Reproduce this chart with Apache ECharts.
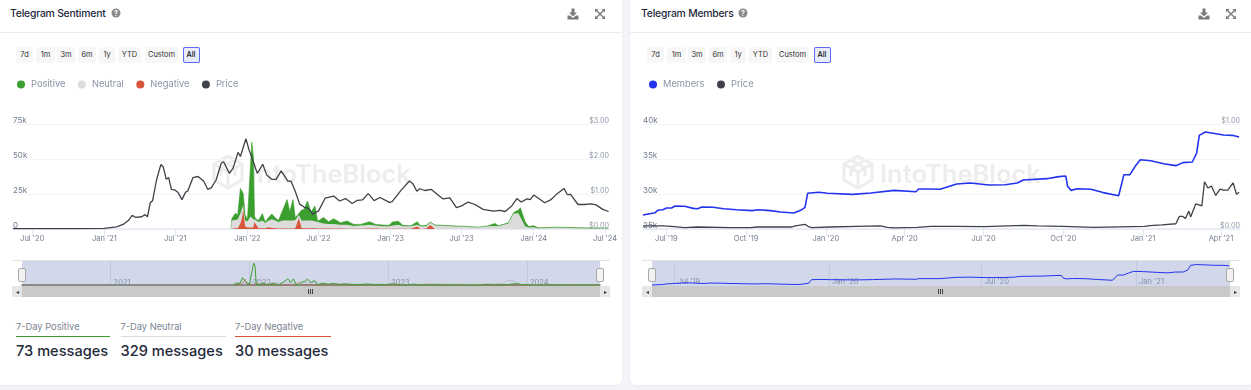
<!DOCTYPE html>
<html><head><meta charset="utf-8">
<script src="https://cdn.jsdelivr.net/npm/echarts@6/dist/echarts.min.js"></script>
<style>
html,body{margin:0;padding:0;width:1251px;height:390px;overflow:hidden;background:#f4f5fb;font-family:Inter,sans-serif;color:#1f2a3a}
.card{position:absolute;top:-6px;height:391px;background:#fff;border-radius:6px;box-shadow:0 1px 3px rgba(60,70,110,.06)}
.title{position:absolute;top:6px;font-size:10.4px;font-weight:500;letter-spacing:-.22px;line-height:15px;white-space:nowrap}
.hr{position:absolute;top:32px;height:1px;background:#ececee}
.btn{position:absolute;top:47px;height:16px;line-height:16px;background:#f7f7f7;border-radius:2px;font-size:7.4px;color:#333;text-align:center}
.btn.on{background:#e8ebfa;box-shadow:inset 0 0 0 1px #5b6cf0;color:#111;font-weight:500}
.lab{position:absolute;top:320px;font-size:9.3px;color:#7b838f;line-height:13px;white-space:nowrap}
.rule{position:absolute;top:336px;height:1px}
.num{position:absolute;top:342px;font-size:14.6px;font-weight:500;line-height:18px;white-space:nowrap;color:#1f2a3a}
.handle{position:absolute;top:268px;width:6px;height:12px;background:#f2f2f2;border:1px solid #a8a8a8;border-radius:2px;z-index:5}
.sb{position:absolute;top:286px;height:11px;background:#c9c9c9;z-index:5}
.sbb{position:absolute;top:286px;width:10px;height:11px;background:#e6e6e6;z-index:6;font-size:6px;line-height:11px;text-align:center;color:#333}
.navtop{position:absolute;top:260px;height:1px;background:#e2e2e2}
svg.ic{position:absolute;z-index:7}
#c{position:absolute;left:0;top:0;width:1251px;height:390px;z-index:1}
</style></head>
<body>
<div id="chrome"></div>
<div id="c"></div>
<script>
// ---------- Telegram Sentiment data ----------
const sentimentDates = ['2021-11-20','2021-11-22','2021-12-01','2021-12-07','2021-12-14','2021-12-18','2021-12-21','2021-12-26','2022-01-01','2022-01-06','2022-01-09','2022-01-12','2022-01-16','2022-01-19','2022-01-22','2022-01-29','2022-02-08','2022-02-15','2022-02-24','2022-03-04','2022-03-13','2022-03-21','2022-04-01','2022-04-12','2022-04-19','2022-04-27','2022-05-03','2022-05-12','2022-05-19','2022-05-25','2022-06-03','2022-06-12','2022-06-22','2022-06-29','2022-07-01','2022-07-14','2022-07-27','2022-08-09','2022-08-26','2022-09-12','2022-09-29','2022-10-16','2022-11-09','2022-11-24','2022-12-11','2022-12-28','2023-01-06','2023-01-21','2023-02-01','2023-02-22','2023-03-10','2023-03-18','2023-04-02','2023-04-12','2023-04-24','2023-06-07','2023-07-18','2023-08-12','2023-09-07','2023-09-24','2023-10-03','2023-10-28','2023-11-11','2023-11-23','2023-11-28','2023-12-10','2023-12-19','2024-01-01','2024-01-12','2024-03-07','2024-04-25','2024-07-10'];
const negativeValues = [0,700,500,500,4000,7600,14000,1700,1000,500,1000,1000,1000,4800,4000,500,500,500,1200,800,500,300,400,400,400,400,500,7600,500,500,500,500,500,300,300,300,300,400,400,200,100,200,400,400,100,100,100,100,100,100,1700,0,300,2900,0,0,0,0,0,0,0,0,0,0,0,0,0,0,0,0,0,0];
const neutralValues = [0,5300,5900,6400,7200,4800,3000,4300,4500,4500,8000,8000,6000,3200,2400,4500,5500,3700,4800,6200,5500,4700,5600,5600,5600,5600,5900,2400,5500,5500,5500,5500,5000,4700,3700,3700,3200,3100,2600,2800,2100,2300,2600,2100,1900,1900,2400,2900,1900,1900,1300,2000,1700,1800,2500,2000,1500,1100,2000,2200,2000,4000,11000,11200,10000,2000,1000,1200,600,900,500,300];
const positiveValues = [0,1400,4800,3100,17800,17100,8500,4000,1500,1400,38000,53000,45000,1000,1000,1000,5000,800,2300,3700,2000,1000,7500,15000,6400,15000,1600,1000,7500,8000,14000,6000,10900,500,1200,4300,1700,3900,1500,2700,1100,800,2200,800,900,600,2500,2500,600,300,2200,300,600,300,400,300,300,200,300,1800,300,400,700,2400,5200,3200,700,1200,300,400,400,200];
const priceDatesA = ['2020-05-13','2020-08-01','2020-11-01','2021-01-01','2021-02-01','2021-02-18','2021-03-03','2021-03-13','2021-03-22','2021-04-06','2021-04-15','2021-04-21','2021-04-28','2021-05-04','2021-05-14','2021-05-25','2021-05-31','2021-06-08','2021-06-14','2021-06-21','2021-07-01','2021-07-08','2021-07-18','2021-07-27','2021-08-02','2021-08-15','2021-08-28','2021-09-11','2021-09-22','2021-10-01','2021-10-13','2021-10-26','2021-11-01','2021-11-16','2021-11-25','2021-12-08','2021-12-14','2021-12-28','2022-01-05','2022-01-10','2022-01-16','2022-01-26','2022-01-31','2022-02-09','2022-02-19','2022-03-04','2022-03-15','2022-03-28','2022-04-14','2022-04-22','2022-05-03','2022-05-14','2022-05-26','2022-06-06','2022-06-17','2022-06-24','2022-07-01','2022-07-18','2022-08-09','2022-08-24','2022-09-08','2022-09-25','2022-10-08','2022-10-21','2022-11-05','2022-11-20','2022-12-05','2022-12-29','2023-01-05','2023-01-28','2023-02-18','2023-02-27','2023-03-09','2023-03-16','2023-03-29','2023-04-15','2023-05-02','2023-05-15','2023-06-01','2023-06-18','2023-07-01','2023-07-18','2023-08-04','2023-08-25','2023-09-20','2023-10-08','2023-10-20','2023-11-06','2023-11-19','2023-11-30','2023-12-15','2023-12-23','2024-01-01','2024-01-14','2024-01-29','2024-02-13','2024-03-01','2024-03-18','2024-03-27','2024-04-04','2024-04-23','2024-05-09','2024-05-26','2024-06-08','2024-06-25','2024-07-10'];
const priceValuesA = [0.01,0.01,0.01,0.02,0.06,0.13,0.24,0.39,0.33,0.35,0.41,0.35,0.75,0.81,1.40,1.84,1.78,1.42,1.47,1.13,1.11,1.04,0.84,1.05,1.09,1.47,1.50,1.37,1.13,1.18,1.40,1.88,1.92,1.59,1.73,2.19,2.07,2.58,2.26,2.21,1.92,1.59,1.61,1.85,1.54,1.42,1.42,1.66,1.37,1.37,1.07,0.71,0.62,0.59,0.42,0.48,0.51,0.88,0.94,0.80,0.87,0.73,0.82,0.83,1.01,0.81,0.90,0.76,0.78,1.11,1.37,1.29,1.08,1.15,1.10,1.13,0.97,0.86,0.89,0.61,0.66,0.77,0.70,0.56,0.51,0.53,0.50,0.66,0.87,0.77,0.86,0.84,0.97,0.87,0.75,0.83,1.01,1.16,0.98,0.99,0.70,0.70,0.72,0.69,0.56,0.50];
const ticksDatesA = ['2020-07-01','2021-01-01','2021-07-01','2022-01-01','2022-07-01','2023-01-01','2023-07-01','2024-01-01','2024-07-01'];
const ticksLabelsA = ["Jul '20","Jan '21","Jul '21","Jan '22","Jul '22","Jan '23","Jul '23","Jan '24","Jul '24"];
const navDatesA = ['2021-01-01','2022-01-01','2023-01-01','2024-01-01'];
const navLabelsA = ['2021','2022','2023','2024'];

// ---------- Telegram Members data ----------
const membersDates = ['2019-06-04','2019-06-18','2019-06-21','2019-06-27','2019-07-01','2019-07-07','2019-07-11','2019-07-22','2019-08-01','2019-08-06','2019-08-11','2019-08-24','2019-09-05','2019-09-20','2019-10-08','2019-10-15','2019-10-29','2019-11-10','2019-11-25','2019-12-03','2019-12-08','2019-12-11','2019-12-24','2020-01-03','2020-02-01','2020-02-22','2020-03-20','2020-04-14','2020-04-15','2020-04-17','2020-05-01','2020-05-12','2020-05-20','2020-05-31','2020-06-16','2020-07-07','2020-07-26','2020-08-09','2020-08-16','2020-09-12','2020-09-26','2020-10-04','2020-10-06','2020-10-10','2020-10-17','2020-11-02','2020-11-16','2020-12-04','2020-12-10','2020-12-17','2020-12-23','2020-12-29','2021-01-10','2021-01-25','2021-02-08','2021-02-16','2021-02-27','2021-03-04','2021-03-07','2021-03-14','2021-04-04','2021-04-14','2021-04-22'];
const membersValues = [27000,27330,27670,27760,28000,28000,28290,28240,27950,27900,28140,28100,27900,27760,27620,27760,27620,27430,27290,27670,28100,30100,30240,30100,29950,30140,30520,30330,30290,30710,30710,30670,31000,31430,31570,31290,31330,31570,32000,32190,32480,32570,31100,30520,30760,30670,30200,29760,32760,32760,33950,34900,34760,34330,34050,34480,34570,35860,38380,38860,38430,38380,38140];
const priceDatesB = ['2019-06-04','2019-06-27','2019-07-07','2019-07-22','2019-08-06','2019-09-12','2019-10-06','2019-10-14','2019-11-22','2019-11-27','2019-12-08','2019-12-12','2019-12-16','2020-01-06','2020-02-06','2020-03-04','2020-03-12','2020-03-20','2020-04-16','2020-05-01','2020-05-28','2020-07-02','2020-08-17','2020-09-01','2020-10-01','2020-11-05','2021-01-03','2021-01-09','2021-01-23','2021-02-08','2021-02-12','2021-02-16','2021-02-19','2021-02-23','2021-02-25','2021-03-03','2021-03-10','2021-03-13','2021-03-17','2021-03-21','2021-03-26','2021-03-31','2021-04-04','2021-04-09','2021-04-15','2021-04-19','2021-04-22'];
const priceValuesB = [0.03,0.03,0.025,0.013,0.019,0.013,0.013,0.019,0.019,0.03,0.045,0.022,0.013,0.019,0.025,0.029,0.016,0.01,0.016,0.025,0.025,0.022,0.035,0.029,0.025,0.016,0.025,0.032,0.04,0.05,0.12,0.12,0.10,0.17,0.115,0.24,0.22,0.45,0.39,0.41,0.32,0.38,0.37,0.37,0.44,0.33,0.35];
const ticksDatesB = ['2019-07-01','2019-10-01','2020-01-01','2020-04-01','2020-07-01','2020-10-01','2021-01-01','2021-04-01'];
const ticksLabelsB = ["Jul '19","Oct '19","Jan '20","Apr '20","Jul '20","Oct '20","Jan '21","Apr '21"];
const navDatesB = ['2019-07-01','2020-01-01','2020-07-01','2021-01-01'];
const navLabelsB = ["Jul '19","Jan '20","Jul '20","Jan '21"];

const buttonLabels = ['7d','1m','3m','6m','1y','YTD','Custom','All'];
const statLabels = ['7-Day Positive','7-Day Neutral','7-Day Negative'];
const statValues = ['73 messages','329 messages','30 messages'];

// ---------- page chrome ----------
const T = s => +new Date(s);
const GREEN='#3a9f2e', GRAY='#dcdcdc', RED='#d9553a', DARK='#3f4248', BLUE='#2233ee';
const chrome = document.getElementById('chrome');
function add(cls, style, text){const d=document.createElement('div');d.className=cls;d.style.cssText=style;if(text!=null)d.textContent=text;chrome.appendChild(d);return d;}
function svg(x,y,w,h,inner){const wrap=document.createElement('div');wrap.innerHTML='<svg class="ic" style="left:'+x+'px;top:'+y+'px" width="'+w+'" height="'+h+'" viewBox="0 0 '+w+' '+h+'">'+inner+'</svg>';chrome.appendChild(wrap.firstChild);}
const btnX=[[16,17],[36,19],[57,18],[78,18],[99,16],[118,23],[145,33],[182.5,17]];
function panel(off,cardL,cardW,title,titleX,infoX,dlX,fsX,navL,navR){
  add('card','left:'+cardL+'px;width:'+cardW+'px');
  add('title','left:'+titleX+'px',title);
  add('hr','left:'+cardL+'px;width:'+cardW+'px');
  svg(infoX-5,8,10,10,'<circle cx="5" cy="5" r="4.5" fill="#8a8a8a"/><text x="5" y="7.6" font-size="7" font-weight="700" font-family="Inter" text-anchor="middle" fill="#fff">?</text>');
  svg(dlX-6,8,12,12,'<path d="M4.5 0.5h3v4h2.5L6 8.5 2 4.5h2.5z" fill="#7a7a7a"/><path d="M0.5 7.5h2.5l3 2.5 3-2.5h2.5v4h-11z" fill="#7a7a7a"/>');
  svg(fsX-5,9,10,10,'<path d="M1 1l8 8M9 1L1 9" stroke="#7a7a7a" stroke-width="1.3"/><path d="M0 0h3.6L0 3.6zM10 0v3.6L6.4 0zM0 10v-3.6L3.6 10zM10 10H6.4L10 6.4z" fill="#7a7a7a"/>');
  buttonLabels.forEach((b,i)=>add('btn'+(i===7?' on':''),'left:'+(btnX[i][0]+off)+'px;width:'+btnX[i][1]+'px',b));
  add('navtop','left:'+navL+'px;width:'+(navR-navL)+'px');
  add('sb','left:'+navL+'px;width:'+(navR-navL)+'px');
  add('sbb','left:'+navL+'px','◂');
  add('sbb','left:'+(navR-10)+'px','▸');
  svg((navL+navR)/2-3,289,6,5,'<path d="M0.5 0v5M2.5 0v5M4.5 0v5" stroke="#444" stroke-width="1"/>');
  add('handle','left:'+(navL+6)+'px');
  add('handle','left:'+(navR-14)+'px');
}
panel(0,-4,626,'Telegram Sentiment',10,116,573,600,12,610);
panel(631,630,625,'Telegram Members',641,743,1204,1231,642,1240);
const statX=[[16,94],[120.5,105],[235,96]], statC=[GREEN,GRAY,RED];
statLabels.forEach((s,i)=>{
  add('lab','left:'+statX[i][0]+'px',s);
  add('rule','left:'+statX[i][0]+'px;width:'+statX[i][1]+'px;background:'+statC[i]);
  add('num','left:'+statX[i][0]+'px',statValues[i]);
});

// ---------- chart ----------
const zip=(d,v)=>d.map((s,i)=>[T(s),v[i]]);
// the value x axis cannot stack on y, so the three bands are accumulated here and painted back to front
const upToNeutral=negativeValues.map((v,i)=>v+neutralValues[i]);
const upToPositive=upToNeutral.map((v,i)=>v+positiveValues[i]);
const area=(name,vals,color,lw,z)=>({name,type:'line',xAxisIndex:0,yAxisIndex:0,data:zip(sentimentDates,vals),showSymbol:false,itemStyle:{color},lineStyle:{width:lw,color},areaStyle:{color,opacity:1},z});
const lbl=(ds,ls)=>{const m={};ds.forEach((d,i)=>m[T(d)]=ls[i]);return m;};
const mA=lbl(ticksDatesA,ticksLabelsA), mB=lbl(ticksDatesB,ticksLabelsB), nA=lbl(navDatesA,navLabelsA), nB=lbl(navDatesB,navLabelsB);
const xMain=(gi,min,max,ds,m)=>({type:'value',scale:true,gridIndex:gi,min:T(min),max:T(max),
  axisLine:{onZero:false,lineStyle:{color:'#e3e7f3',width:1.5}},
  axisTick:{show:true,length:7,lineStyle:{color:'#e3e7f3'},customValues:ds.map(T)},
  axisLabel:{customValues:ds.map(T),formatter:v=>m[v]||'',color:'#737d8e',fontSize:7.5,fontFamily:'Inter',margin:6,hideOverlap:false,showMinLabel:true,showMaxLabel:true},
  splitLine:{show:false}});
const xNav=(gi,min,max,ds,m,axisShow)=>({type:'value',scale:true,gridIndex:gi,min:T(min),max:T(max),
  axisLine:{show:axisShow,onZero:true,lineStyle:{color:'#6b7362',width:1.5}},
  axisTick:{show:false,customValues:ds.map(T)},
  axisLabel:{inside:true,customValues:ds.map(T),formatter:v=>m[v]||'',color:'#8790a6',fontSize:7.5,fontFamily:'Inter',margin:axisShow?-1:0,align:'left',padding:[0,0,0,3],hideOverlap:false},
  splitLine:{show:true,lineStyle:{color:'#c3cadf',width:1}}});
const yL=(gi,min,max,iv,f)=>({type:'value',gridIndex:gi,position:'left',min,max,interval:iv,
  axisLine:{show:false},axisTick:{show:false},splitLine:{show:true,lineStyle:{color:'#f3f4f8'}},
  axisLabel:{inside:true,margin:0,align:'left',verticalAlign:'bottom',lineHeight:7,color:'#6f7a8c',fontSize:8,fontFamily:'Inter',formatter:f}});
const yR=(gi,max,iv)=>({type:'value',gridIndex:gi,position:'right',min:0,max,interval:iv,
  axisLine:{show:false},axisTick:{show:false},splitLine:{show:false},
  axisLabel:{inside:true,margin:0,align:'right',verticalAlign:'bottom',lineHeight:7,color:'#8f99aa',fontSize:7.2,fontFamily:'Inter',formatter:v=>'$'+v.toFixed(2)}});
const yNav=(gi,min,max)=>({type:'value',gridIndex:gi,min,max,show:false,splitLine:{show:false}});
const logoLines=[[[15,1],[29,9],[29,25],[15,33],[1,25],[1,9],[15,1]],[[1,9],[15,17],[29,9]],[[15,17],[15,33]],[[8,5],[22,13],[22,21]],[[22,5],[8,13],[8,21]]];
const logo=(cx,cy)=>({type:'group',x:cx-15,y:cy-17,z:0,silent:true,children:logoLines.map(p=>({type:'polyline',shape:{points:p},style:{fill:'none',stroke:'#ededed',lineWidth:3},silent:true,z:0}))});
const wm=(x,y)=>({type:'text',x,y,z:0,silent:true,style:{text:'IntoTheBlock',font:'600 25.5px Inter',fill:'#ededed',verticalAlign:'middle'}});
const legendBase={icon:'circle',itemWidth:8,itemHeight:8,itemGap:12.5,top:75,textStyle:{color:'#8a94a6',fontSize:9.3,fontFamily:'Inter',padding:[0,0,0,1]},selectedMode:false};

const chart=echarts.init(document.getElementById('c'),null,{renderer:'canvas'});
chart.setOption({
  animation:false,backgroundColor:'transparent',
  legend:[
    Object.assign({},legendBase,{left:12,data:['Positive','Neutral','Negative','Price']}),
    Object.assign({},legendBase,{left:644,data:['Members','Price']})
  ],
  grid:[
    {left:13,width:596,top:124,height:105},
    {left:643,width:597,top:124,height:105},
    {left:22,width:578,top:261,height:25,show:true,backgroundColor:'#d2d8ea',borderWidth:0},
    {left:652,width:578,top:261,height:25,show:true,backgroundColor:'#d2d8ea',borderWidth:0}
  ],
  xAxis:[
    xMain(0,'2020-05-13','2024-07-11',ticksDatesA,mA),
    xMain(1,'2019-06-04','2021-04-23',ticksDatesB,mB),
    xNav(2,'2020-05-13','2024-07-11',navDatesA,nA,true),
    xNav(3,'2019-06-04','2021-04-23',navDatesB,nB,false)
  ],
  yAxis:[
    yL(0,0,75000,25000,v=>v===0?'0':(v/1000)+'k'),
    yR(0,3,1),
    yL(1,25000,40000,5000,v=>(v/1000)+'k'),
    yR(1,1,1),
    yNav(2,-2400,58000),
    yNav(3,26440,40900)
  ],
  series:[
    area('Positive',upToPositive,GREEN,0.6,2),
    area('Neutral',upToNeutral,GRAY,0,3),
    area('Negative',negativeValues,RED,0,4),
    {name:'Price',type:'line',xAxisIndex:0,yAxisIndex:1,data:zip(priceDatesA,priceValuesA),showSymbol:false,itemStyle:{color:DARK},lineStyle:{color:DARK,width:1.3},z:5},
    {name:'Members',type:'line',xAxisIndex:1,yAxisIndex:2,data:zip(membersDates,membersValues),showSymbol:false,itemStyle:{color:BLUE},lineStyle:{color:BLUE,width:1.6},z:4},
    {name:'Price',type:'line',xAxisIndex:1,yAxisIndex:3,data:zip(priceDatesB,priceValuesB),showSymbol:false,itemStyle:{color:DARK},lineStyle:{color:DARK,width:1.3},z:5},
    {name:'Nav Neutral',type:'line',xAxisIndex:2,yAxisIndex:4,data:zip(sentimentDates,neutralValues),showSymbol:false,lineStyle:{color:'#b9bdc9',width:1},z:2},
    {name:'Nav Negative',type:'line',xAxisIndex:2,yAxisIndex:4,data:zip(sentimentDates,negativeValues),showSymbol:false,lineStyle:{color:RED,width:1,opacity:.5},z:3},
    {name:'Nav Positive',type:'line',xAxisIndex:2,yAxisIndex:4,data:zip(sentimentDates,positiveValues),showSymbol:false,lineStyle:{color:GREEN,width:1},z:4},
    {name:'Nav Members',type:'line',xAxisIndex:3,yAxisIndex:5,data:zip(membersDates,membersValues),showSymbol:false,lineStyle:{color:BLUE,width:1},z:4}
  ],
  graphic:[logo(228,172),wm(250,175),logo(858,172),wm(880,175)]
});
</script>
</body></html>
